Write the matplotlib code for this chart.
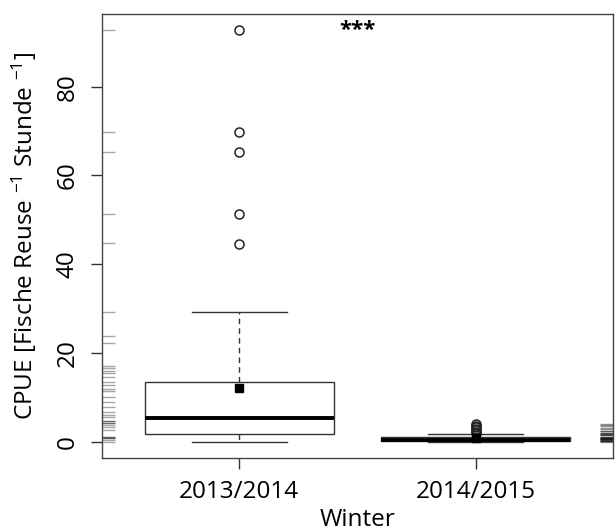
import matplotlib
matplotlib.use("Agg")
import matplotlib.pyplot as plt

# Werte
winters = ["2013/2014", "2014/2015"]
q1 = [1.65, 0.1]
medians = [5.25, 0.4]
q3 = [13.5, 0.95]
whis_lo = [0.0, 0.0]
whis_hi = [29.3, 1.7]
means = [12.0, 0.8]
fliers = [
    [44.6, 51.4, 65.35, 69.8, 92.8],
    [1.9, 2.2, 2.5, 2.9, 3.2, 3.5, 4.0],
]

# Rug-Werte (links: 2013/2014, rechts: 2014/2015)
rug_left = [92.8, 69.8, 65.35, 51.4, 44.8, 29.3, 23.7, 22.2, 17.0, 16.5, 16.0,
            15.4, 14.6, 13.4, 12.8, 11.9, 11.3, 10.1, 8.9, 7.8, 6.6, 6.1, 5.6,
            4.6, 4.6, 4.2, 4.2, 3.8, 3.3, 2.7, 1.0, 1.0, 0.7, 0.7, 0.45, 0.0]
rug_right = [4.0, 3.8, 3.5, 3.1, 2.8, 2.3, 2.3, 2.0, 2.0, 1.7, 1.7, 1.4, 1.4,
             1.1, 1.1, 0.9, 0.9, 0.7, 0.7, 0.5, 0.5, 0.3, 0.3, 0.1, 0.1, 0.0,
             0.2, 0.6]

plt.rcParams["font.family"] = ["Open Sans", "DejaVu Sans"]
plt.rcParams["mathtext.default"] = "regular"

fig = plt.figure(figsize=(6.15, 5.31), dpi=100)
ax = fig.add_axes([0.1659, 0.1375, 0.8308, 0.8361])

stats = []
for i in range(len(winters)):
    stats.append(dict(med=medians[i], q1=q1[i], q3=q3[i], whislo=whis_lo[i],
                      whishi=whis_hi[i], mean=means[i], fliers=fliers[i],
                      label=winters[i]))

ax.bxp(stats, positions=[1, 2], widths=0.8, showmeans=True, patch_artist=True,
       boxprops=dict(facecolor="white", edgecolor="#333333", lw=1.0),
       medianprops=dict(color="black", lw=2.8, solid_capstyle="butt"),
       whiskerprops=dict(color="#333333", lw=1.0, ls=(0, (4, 3))),
       capprops=dict(color="#333333", lw=1.0),
       capwidths=0.4,
       flierprops=dict(marker="o", markerfacecolor="none", markeredgecolor="#222222",
                       markersize=6.5, markeredgewidth=1.1),
       meanprops=dict(marker="s", markerfacecolor="black", markeredgecolor="black",
                      markersize=6))

# rugs
ytr = ax.get_yaxis_transform()
ax.hlines(rug_left, 0, 0.026, transform=ytr, color="black", alpha=0.35, lw=1.0)
ax.hlines(rug_right, 0.974, 1.0, transform=ytr, color="black", alpha=0.4, lw=1.0)

ax.text(1.5, 92.7, "***", ha="center", va="center", fontsize=16, fontweight="bold")

ax.set_xlim(0.42, 2.58)
ax.set_ylim(-3.7, 96.4)
ax.set_yticks([0, 20, 40, 60, 80])
ax.set_xticks([1, 2])
ax.set_xticklabels(winters)
for lab in ax.get_yticklabels():
    lab.set_rotation(90)
    lab.set_va("center")
ax.tick_params(axis="both", labelsize=17.5, length=8, width=1, color="#333333")
ax.tick_params(axis="x", pad=8)
ax.tick_params(axis="y", pad=8)
for s in ax.spines.values():
    s.set_color("#444444")
    s.set_linewidth(1.0)

ax.set_xlabel("Winter", fontsize=17.5, labelpad=3)
ax.set_ylabel(r"CPUE [Fische Reuse $^{-1}$ Stunde $^{-1}$]", fontsize=17.5, labelpad=12)

fig.savefig("out.png", dpi=100)
